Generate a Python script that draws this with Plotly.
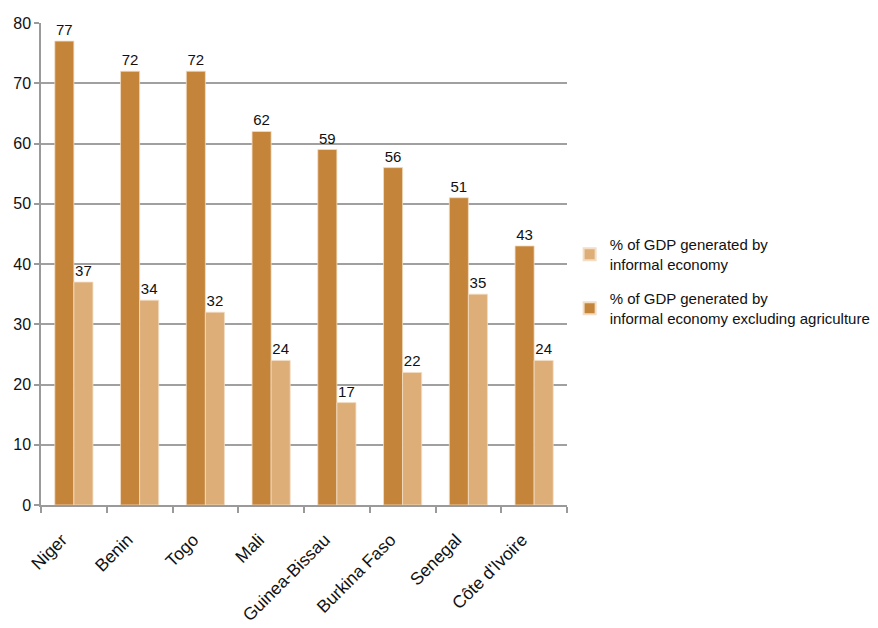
import plotly.graph_objects as go

countries = ["Niger", "Benin", "Togo", "Mali", "Guinea-Bissau",
             "Burkina Faso", "Senegal", "Côte d'Ivoire"]
excl_agri = [77, 72, 72, 62, 59, 56, 51, 43]
informal = [37, 34, 32, 24, 17, 22, 35, 24]

dark = "#C4843A"
light = "#DDAE78"
font = "Liberation Sans, Arial, sans-serif"

fig = go.Figure()
fig.add_trace(go.Bar(
    x=countries, y=excl_agri,
    name="% of GDP generated by<br>informal economy excluding agriculture",
    legendgroup="excl", legendrank=2,
    marker=dict(color=dark, line=dict(color="#F3DDC4", width=0.8)),
    text=excl_agri, textposition="outside", cliponaxis=False,
    textfont=dict(size=15, color="#111", family=font),
))
fig.add_trace(go.Bar(
    x=countries, y=informal,
    name="% of GDP generated by<br>informal economy",
    legendgroup="all", legendrank=1,
    marker=dict(color=light, line=dict(color="#F3DDC4", width=0.8)),
    text=informal, textposition="outside", cliponaxis=False,
    textfont=dict(size=15, color="#111", family=font),
))

fig.update_layout(
    width=878, height=628,
    margin=dict(l=41, r=311, t=23, b=123, autoexpand=False),
    paper_bgcolor="white", plot_bgcolor="white",
    barmode="group", bargap=0.42, bargroupgap=0,
    font=dict(family=font, size=15, color="#111"),
    showlegend=True,
    legend=dict(
        x=1.005, y=0.574, xanchor="left", yanchor="top",
        traceorder="grouped", tracegroupgap=12,
        font=dict(size=15, color="#111", family=font),
        itemsizing="constant",
    ),
    uniformtext=dict(minsize=15, mode="show"),
)
fig.update_xaxes(
    automargin=False,
    showline=True, linecolor="#9a9a9a", linewidth=1.5,
    ticks="outside", tickson="boundaries", ticklen=6, tickcolor="#9a9a9a", tickwidth=1.5,
    tickangle=-45, tickfont=dict(size=17.5, color="#111"),
    ticklabelstandoff=16, ticklabelshift=-12,
    showgrid=False,
)
fig.update_yaxes(
    automargin=False,
    range=[0, 80], dtick=10,
    showline=True, linecolor="#9a9a9a", linewidth=1.5,
    ticks="outside", ticklen=5, tickcolor="#9a9a9a", tickwidth=1.5,
    showgrid=True, gridcolor="#a0a0a0", gridwidth=1.5,
    tickfont=dict(size=16, color="#111"),
    zeroline=False,
)

fig.write_html("out.html")
